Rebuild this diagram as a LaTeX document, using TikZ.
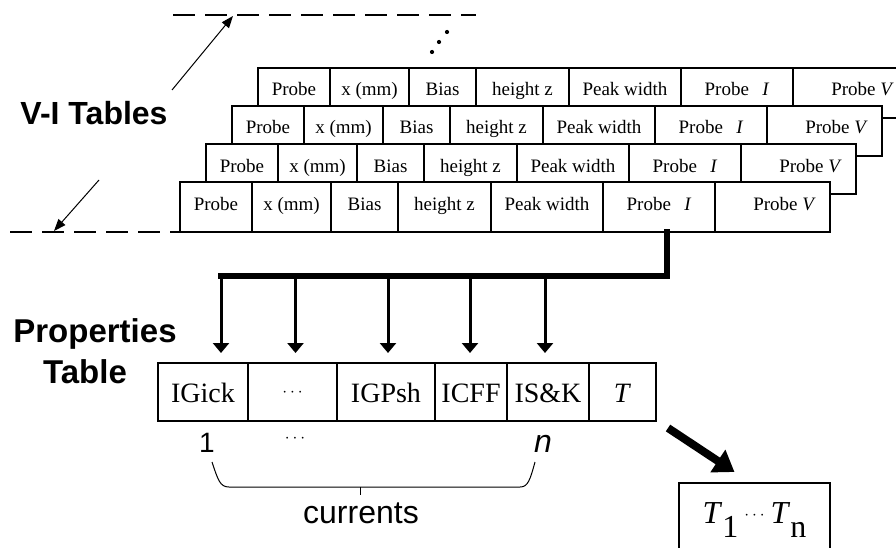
\documentclass[tikz,border=0pt]{standalone}
\usepackage{fontspec}
\setmainfont{Liberation Serif}
\newfontfamily\arialfont{Liberation Sans}
\usetikzlibrary{arrows.meta,positioning,calc}
\newcommand{\midots}{{\fontsize{16}{16}\selectfont$\cdots$}}

\begin{document}
\begin{tikzpicture}[x=1pt,y=-1pt,
    vicell/.style={draw, fill=white, line width=1.2pt, anchor=north west,
      inner sep=0pt, outer sep=0pt, minimum height=50pt,
      text height=28pt, text depth=22pt, font=\fontsize{19}{19}\selectfont},
    pcell/.style={draw, line width=1.2pt, anchor=north west,
      inner sep=0pt, outer sep=0pt, minimum height=58pt,
      text height=20pt, text depth=0pt, font=\fontsize{28}{28}\selectfont},
    tbox/.style={draw, line width=1.2pt, anchor=north, inner sep=0pt, outer sep=0pt,
      minimum width=151pt, text height=40pt, text depth=50pt,
      font=\fontsize{32}{32}\selectfont},
    title/.style={anchor=base, font=\arialfont\bfseries\fontsize{33}{33}\selectfont},
    sans/.style={anchor=base, font=\arialfont\fontsize{28}{28}\selectfont},
    guide/.style={line width=1.2pt, dash pattern=on 22pt off 10pt},
    pointer/.style={line width=1pt, -{Triangle[length=12pt,width=9pt]}},
    bus/.style={line width=5.5pt, line cap=rect},
    feed/.style={line width=3pt, -{Triangle[length=10pt,width=16pt]}},
    bigarrow/.style={line width=8pt, -{Triangle[length=20pt,width=26pt]}},
    brace/.style={line width=1pt}]
    \clip (0,0) rectangle (896,548);
    \fill[white] (0,0) rectangle (896,548);

    % stacked V-I tables, back one first
    \foreach \k in {3,2,1,0} {
      \foreach \dx/\w/\txt [count=\c] in {0/72/Probe, 72/79/x (mm), 151/67/Bias,
          218/93/height z, 311/112/Peak width, 423/112/Probe\hspace{0.7em}\textit{I},
          535/115/\hspace{24pt}Probe~\textit{V}} {
        \node[vicell, minimum width=\w pt] (t\k-\c) at (180+26*\k+\dx, 182-38*\k) {\txt};
      }
    }
    \foreach \x/\y in {432/52, 439/42, 447/32} {
      \fill (\x,\y) circle (2.1);
    }

    % guide lines and label
    \coordinate (topL) at (173,15);
    \coordinate (topR) at (476,15);
    \coordinate (botL) at (10,232);
    \draw[guide] (topL) -- (topR);
    \draw[guide] (botL) -- (t0-1.south west);
    \node[title, font=\arialfont\bfseries\fontsize{32}{32}\selectfont] (vi) at (94,125) {V-I Tables};
    \coordinate (hiTail) at (172,90);
    \coordinate (hiTip) at (233,16);
    \coordinate (loTail) at (99,180);
    \coordinate (loTip) at (54,231);
    \draw[pointer] (hiTail) -- (hiTip);
    \draw[pointer] (loTail) -- (loTip);

    % properties table
    \node[title] (propA) at (95,342) {Properties};
    \node[title] (propB) at (85,383) {Table};
    \foreach \dx/\w/\txt [count=\c] in {0/90/IGick, 90/89/\raisebox{6pt}{\midots},
        179/98/IGPsh, 277/72/ICFF, 349/82/IS\&K, 431/67/\textit{T}} {
      \node[pcell, minimum width=\w pt] (p\c) at (158+\dx, 363) {\txt};
    }
    \coordinate (busL) at (221,276);
    \draw[bus] ($(t0-6.south)+(8,0)$) |- (busL);
    \foreach \c/\sh in {1/18, 2/3, 3/2, 4/-1, 5/-3} {
      \draw[feed] ($(p\c.north |- busL)+(\sh,0)$) -- ($(p\c.north)+(\sh,-10)$);
    }

    % currents brace
    \node[sans] (one) at (207,452) {1};
    \node (gap) at (295,439) {\midots};
    \node[sans, font=\arialfont\fontsize{32}{32}\selectfont] (last) at (543,452) {\textit{n}};
    \draw[brace] (212,462) .. controls (218,480) and (220,487) .. (229,487)
      -- (520,487) .. controls (528,487) and (530,480) .. (535,462);
    \draw[brace] (360,487) -- (360,495);
    \node[sans, font=\arialfont\fontsize{32}{32}\selectfont] (cur) at (361,523) {currents};

    % result box
    \node[tbox] (tn) at (754.5,483) {\textit{T}\raisebox{-14pt}{1}\hspace{6pt}\raisebox{4pt}{\midots}\hspace{6pt}\textit{T}\raisebox{-14pt}{n}};
    \draw[bigarrow] ($(p6.south east)+(12,7)$) -- ($(tn.north)+(-20,-11)$);
  \end{tikzpicture}
\end{document}
